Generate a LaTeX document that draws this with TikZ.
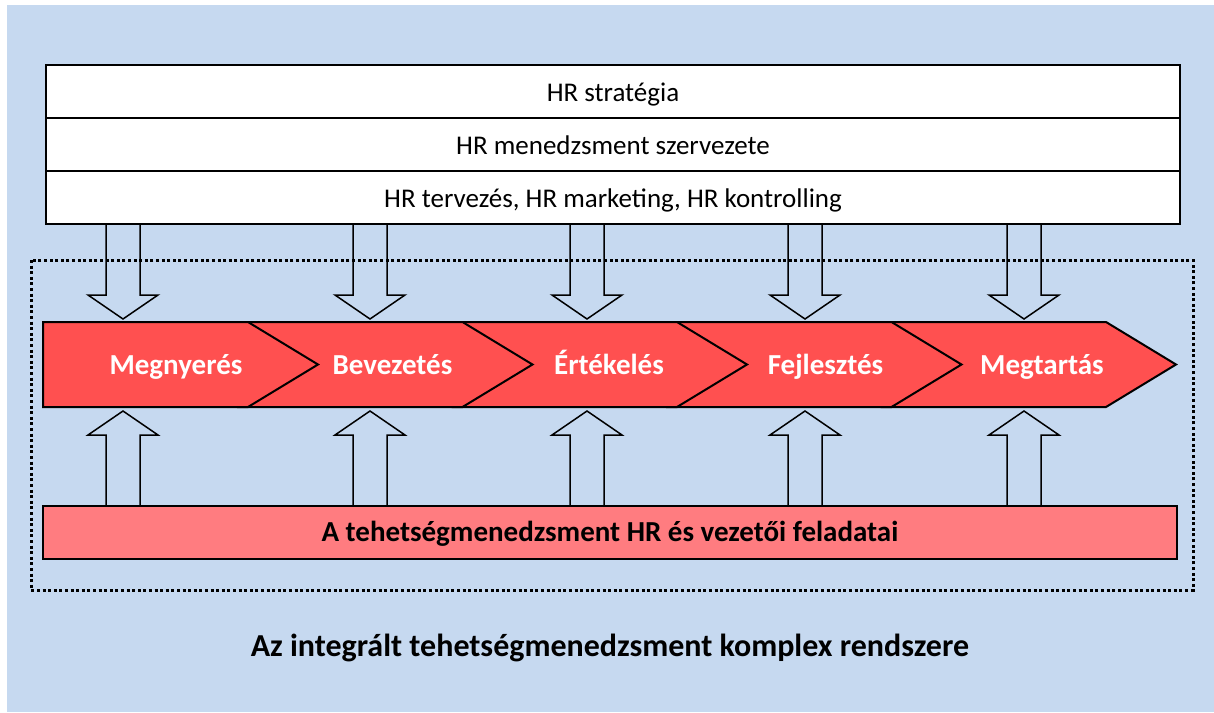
\documentclass[tikz,border=0pt]{standalone}
\usepackage{fontspec}
\setmainfont{Carlito}
\usetikzlibrary{positioning,calc}
\definecolor{bgblue}{RGB}{198,217,240}
\definecolor{phasered}{RGB}{255,80,80}
\definecolor{taskred}{RGB}{255,124,128}

\begin{document}
\begin{tikzpicture}[x=1pt, y=-1pt,
    hrbox/.style={draw, line width=1.5pt, fill=white, minimum width=1134pt, minimum height=53pt, inner sep=0pt,
        text height=19pt, text depth=0pt, font=\fontsize{27}{32}\selectfont},
    chevron/.style={draw, line width=2pt, fill=phasered, line join=miter},
    phase/.style={text=white, anchor=base, font=\bfseries\fontsize{29}{34}\selectfont},
    blockdown/.style={draw, line width=1.5pt, to path={let \p1=(\tikztostart), \p2=(\tikztotarget) in
        (\x1-17pt,\y1) -- (\x1-17pt,\y2+24pt) -- (\x1-35pt,\y2+24pt) -- (\x2,\y2) -- (\x1+35pt,\y2+24pt) -- (\x1+17pt,\y2+24pt) -- (\x1+17pt,\y1)}},
    blockup/.style={draw, line width=1.5pt, to path={let \p1=(\tikztostart), \p2=(\tikztotarget) in
        (\x1-17pt,\y1) -- (\x1-17pt,\y2-24pt) -- (\x1-35pt,\y2-24pt) -- (\x2,\y2) -- (\x1+35pt,\y2-24pt) -- (\x1+17pt,\y2-24pt) -- (\x1+17pt,\y1)}}]

    % canvas
    \useasboundingbox (0,0) rectangle (1214,712);
    \fill[bgblue] (7,5) rectangle (1214,712);

    % HR layers on top
    \node [hrbox] (strat) at (613,91.5) {HR stratégia};
    \node [hrbox, below=-1.5pt of strat] (org) {HR menedzsment szervezete};
    \node [hrbox, below=-1.5pt of org] (plan) {HR tervezés, HR marketing, HR kontrolling};

    % dotted frame of the system
    \draw[line width=3pt, dash pattern=on 3pt off 2.6pt] (31,260) rectangle (1193,590);

    % process chevrons, last one first
    \foreach \k in {5,4,...,1} {
        \pgfmathsetmacro\sx{248+214.5*(\k-1)}
        \pgfmathsetmacro\lx{\k==1 ? 43 : \sx-224.5}
        \draw[chevron] (\lx,322) -- (\sx,322) -- (\sx+70,364.5) -- (\sx,407) -- (\lx,407) -- cycle;
    }
    \foreach \t [count=\i] in {Megnyerés,Bevezetés,Értékelés,Fejlesztés,Megtartás}
        \node [phase] (ph\i) at ({176+216.5*(\i-1)},374) {\t};

    % talent management tasks
    \node [draw, line width=1.5pt, fill=taskred, minimum width=1134pt, minimum height=53pt, inner sep=0pt,
        text height=17pt, text depth=0pt, font=\bfseries\fontsize{29}{34}\selectfont] (task) at (610,532.5) {A tehetségmenedzsment HR és vezetői feladatai};

    % block arrows
    \coordinate (dtip) at (0,319);
    \coordinate (utip) at (0,411);
    \foreach \ax [count=\i] in {123,370,587,805,1024} {
        \coordinate (a\i) at (\ax,0);
        \draw[blockdown] (plan.south -| a\i) to (dtip -| a\i);
        \draw[blockup] (task.north -| a\i) to (utip -| a\i);
    }

    \node [anchor=base, font=\bfseries\fontsize{32}{38}\selectfont] (title) at (610,656) {Az integrált tehetségmenedzsment komplex rendszere};
\end{tikzpicture}
\end{document}
